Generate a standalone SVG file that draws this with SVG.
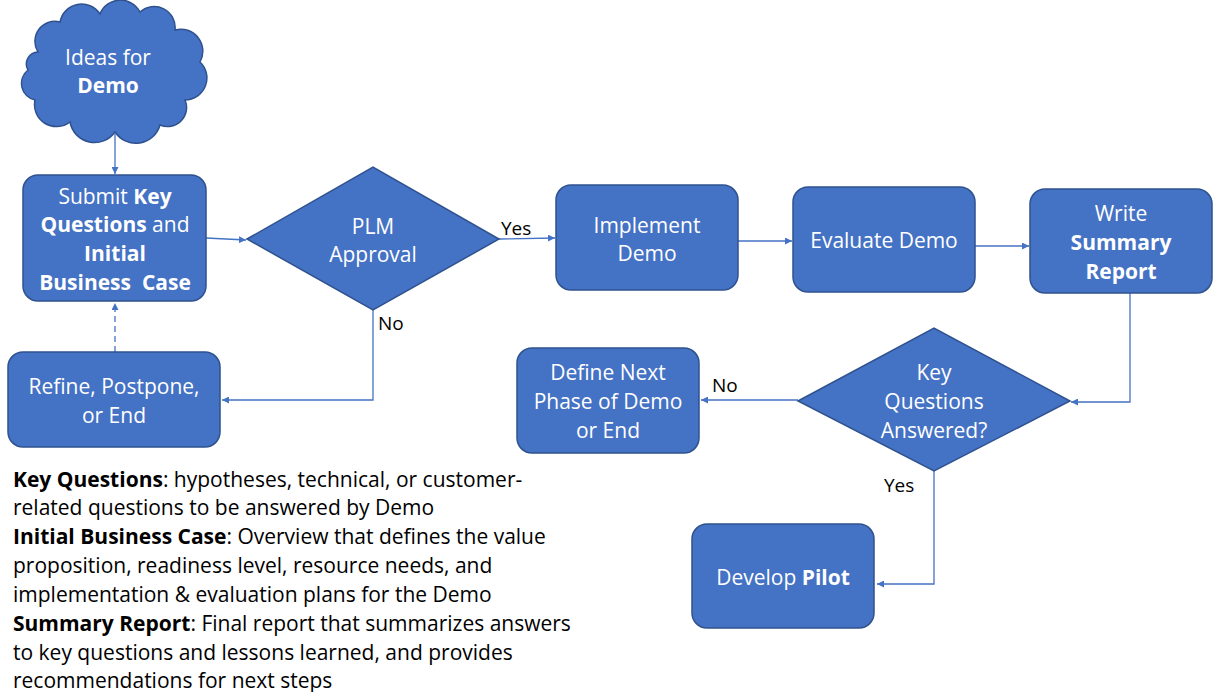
<svg xmlns="http://www.w3.org/2000/svg" width="1215" height="692" viewBox="0 0 1215 692">
<defs>
<style>
.n{fill:#4472C4;stroke:#2F528F;stroke-width:1.5}
.t{font-family:"Open Sans","Liberation Sans",sans-serif;font-size:21px;fill:#fff;text-anchor:middle;dominant-baseline:central}
.b{font-weight:bold}
.c{fill:none;stroke:#4472C4;stroke-width:1.3}
.y{font-family:"Open Sans","Liberation Sans",sans-serif;font-size:19px;fill:#000;dominant-baseline:central}
.l{font-family:"Open Sans","Liberation Sans",sans-serif;font-size:21px;fill:#000;dominant-baseline:central}
</style>
<marker id="ah" viewBox="0 0 10 10" refX="10" refY="5" markerWidth="7" markerHeight="7" orient="auto" markerUnits="userSpaceOnUse">
<path d="M0,0 L10,5 L0,10 z" fill="#4472C4"/>
</marker>
</defs>
<rect width="1215" height="692" fill="#fff"/>

<g id="connectors">
<line class="c" x1="115" y1="134" x2="115" y2="174" marker-end="url(#ah)"/>
<line class="c" x1="206" y1="238" x2="246" y2="240" marker-end="url(#ah)"/>
<line class="c" x1="499" y1="239" x2="555" y2="238" marker-end="url(#ah)"/>
<polyline class="c" points="373,310 373,400 222,400" marker-end="url(#ah)"/>
<line class="c" x1="115" y1="352" x2="115" y2="303" stroke-dasharray="6,4" marker-end="url(#ah)"/>
<line class="c" x1="738" y1="241" x2="792" y2="241" marker-end="url(#ah)"/>
<line class="c" x1="975" y1="246" x2="1029" y2="246" marker-end="url(#ah)"/>
<polyline class="c" points="1130,293 1130,402 1071,402" marker-end="url(#ah)"/>
<line class="c" x1="798" y1="400" x2="701" y2="400" marker-end="url(#ah)"/>
<polyline class="c" points="934,471 934,584 877,584" marker-end="url(#ah)"/>
<text class="y" x="501" y="228">Yes</text>
<text class="y" x="378" y="323">No</text>
<text class="y" x="712" y="385">No</text>
<text class="y" x="884" y="485">Yes</text>
</g>

<g id="ideas">
<path class="n" d="M38,52 A20,20 0 0 1 60,22 A22,22 0 0 1 100,14 A22,22 0 0 1 140,12 A21,21 0 0 1 175,30 A22,22 0 0 1 200,62 A22,22 0 0 1 185,100 A19,19 0 0 1 160,125 A25,25 0 0 1 115,132 A25,25 0 0 1 70,122 A22,22 0 0 1 35,100 A17,17 0 0 1 28,70 A12,12 0 0 1 38,52 Z"/>
<text class="t" x="108" y="57">Ideas for</text>
<text class="t b" x="108" y="85">Demo</text>
</g>

<g id="submit">
<rect class="n" x="23" y="175" width="183" height="126" rx="15"/>
<text class="t" x="115" y="196">Submit <tspan class="b">Key</tspan></text>
<text class="t" x="115" y="224"><tspan class="b">Questions</tspan> and</text>
<text class="t b" x="115" y="253">Initial</text>
<text class="t b" x="115" y="282" xml:space="preserve">Business  Case</text>
</g>

<g id="plm">
<polygon class="n" points="247,239 373,167 499,239 373,310"/>
<text class="t" x="373" y="226">PLM</text>
<text class="t" x="373" y="254">Approval</text>
</g>

<g id="refine">
<rect class="n" x="8" y="352" width="212" height="95" rx="15"/>
<text class="t" x="114" y="386">Refine, Postpone,</text>
<text class="t" x="114" y="415">or End</text>
</g>

<g id="implement">
<rect class="n" x="556" y="185" width="182" height="105" rx="15"/>
<text class="t" x="647" y="225">Implement</text>
<text class="t" x="647" y="253">Demo</text>
</g>

<g id="evaluate">
<rect class="n" x="793" y="187" width="182" height="105" rx="15"/>
<text class="t" x="884" y="240">Evaluate Demo</text>
</g>

<g id="summary">
<rect class="n" x="1030" y="189" width="182" height="104" rx="15"/>
<text class="t" x="1121" y="213">Write</text>
<text class="t b" x="1121" y="242">Summary</text>
<text class="t b" x="1121" y="271">Report</text>
</g>

<g id="keyq">
<polygon class="n" points="798,401 934,328 1070,401 934,471"/>
<text class="t" x="934" y="372">Key</text>
<text class="t" x="934" y="401">Questions</text>
<text class="t" x="934" y="430">Answered?</text>
</g>

<g id="define">
<rect class="n" x="517" y="348" width="182" height="105" rx="15"/>
<text class="t" x="608" y="372">Define Next</text>
<text class="t" x="608" y="401">Phase of Demo</text>
<text class="t" x="608" y="430">or End</text>
</g>

<g id="pilot">
<rect class="n" x="692" y="524" width="182" height="104" rx="15"/>
<text class="t" x="783" y="577">Develop <tspan class="b">Pilot</tspan></text>
</g>

<g id="legend">
<text class="l" x="13" y="479"><tspan class="b">Key Questions</tspan>: hypotheses, technical, or customer-</text>
<text class="l" x="13" y="507">related questions to be answered by Demo</text>
<text class="l" x="13" y="536"><tspan class="b">Initial Business Case</tspan>: Overview that defines the value</text>
<text class="l" x="13" y="565">proposition, readiness level, resource needs, and</text>
<text class="l" x="13" y="594">implementation &amp; evaluation plans for the Demo</text>
<text class="l" x="13" y="623"><tspan class="b">Summary Report</tspan>: Final report that summarizes answers</text>
<text class="l" x="13" y="652">to key questions and lessons learned, and provides</text>
<text class="l" x="13" y="680">recommendations for next steps</text>
</g>
</svg>
